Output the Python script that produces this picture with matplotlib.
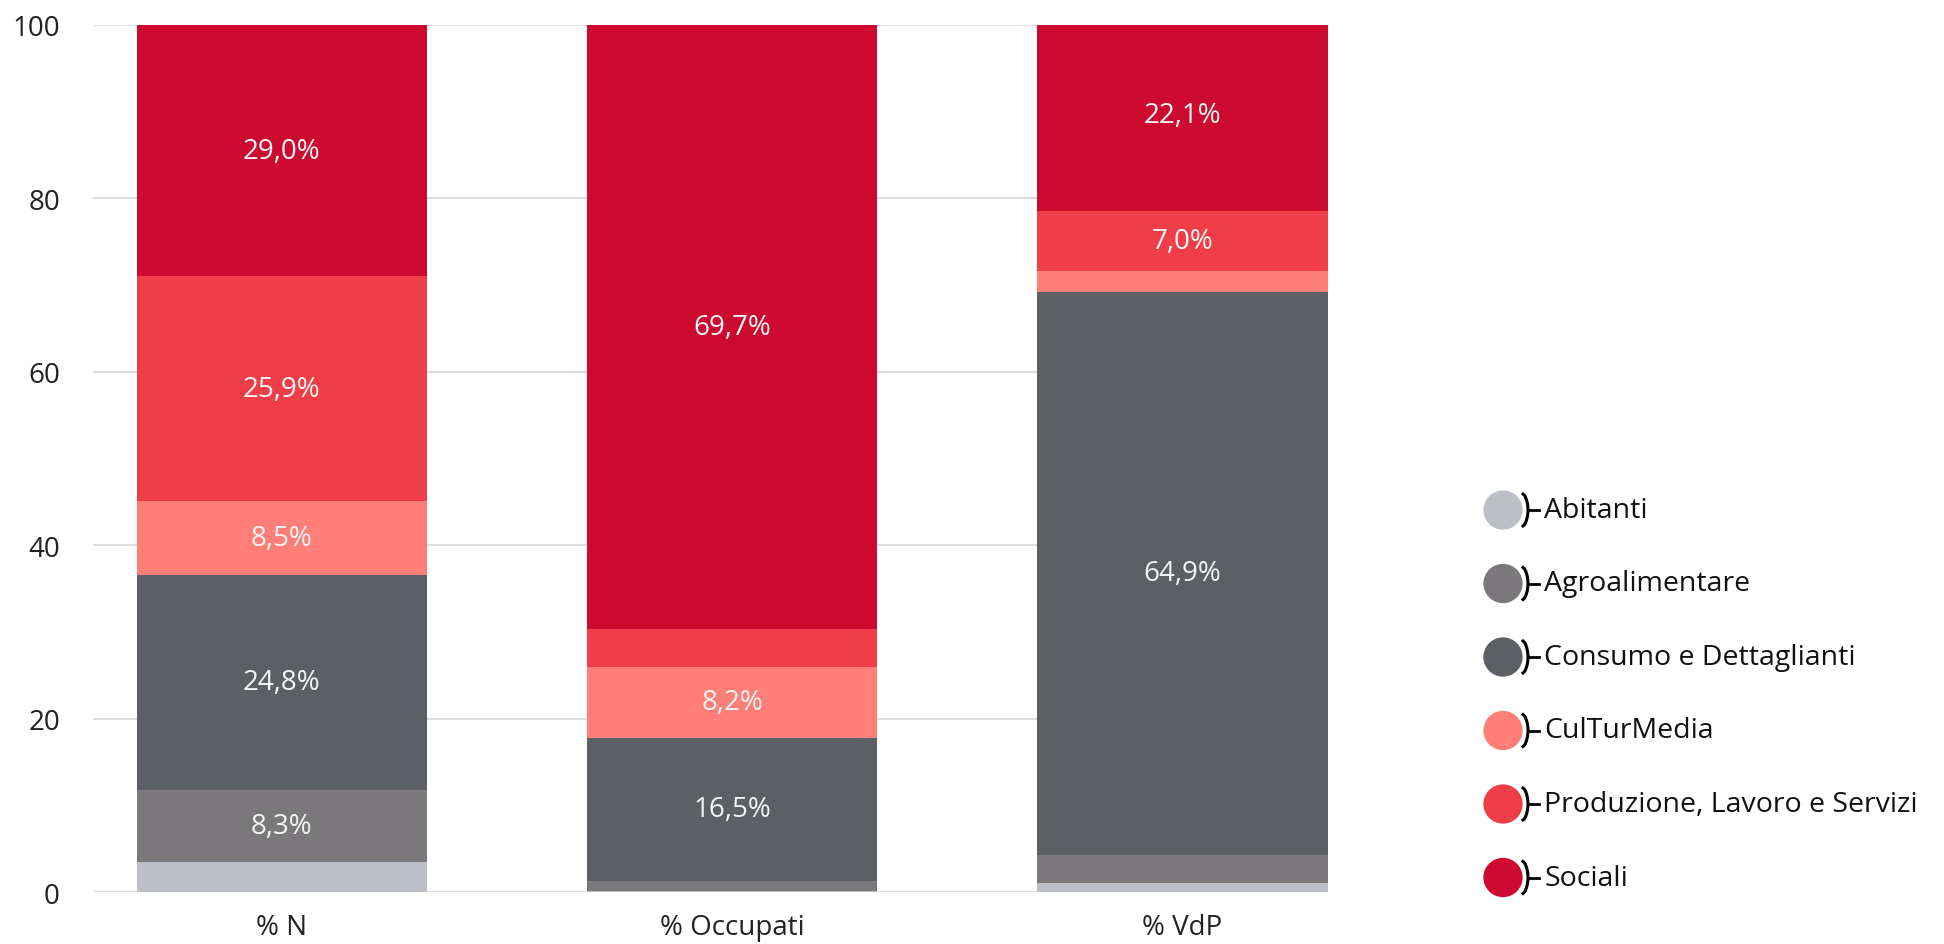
import numpy as np
import matplotlib.pyplot as plt
from matplotlib.lines import Line2D

plt.rcParams['font.family'] = ['Open Sans', 'DejaVu Sans']

# ── Dati ─────────────────────────────────────────────────────────────────────
categorie = ["% N", "% Occupati", "% VdP"]
settori   = ["Abitanti", "Agroalimentare", "Consumo e Dettaglianti",
             "CulTurMedia", "Produzione, Lavoro e Servizi", "Sociali"]

abitanti    = [3.5, 0.1, 1.0]
agro        = [8.3, 1.2, 3.3]
consumo     = [24.8, 16.5, 64.9]
culturmedia = [8.5, 8.2, 2.4]
produzione  = [25.9, 4.3, 7.0]
sociali     = [29.0, 69.7, 22.1]

colori = ["#BCC0C6", "#7B787C", "#5C5F64", "#FF7F78", "#F03E48", "#CC0A2F"]
serie  = [abitanti, agro, consumo, culturmedia, produzione, sociali]

# ── Figura ───────────────────────────────────────────────────────────────────
fig = plt.figure(figsize=(19.44, 9.45), dpi=100)
ax = fig.add_axes([0.048, 0.055, 0.635, 0.9175])

x = np.arange(len(categorie))
width = 0.645
bottom = np.zeros(len(categorie))
for vals, col in zip(serie, colori):
    vals = np.array(vals)
    ax.bar(x, vals, width, bottom=bottom, color=col, zorder=2)
    for xi, v, b in zip(x, vals, bottom):
        if v >= 5:
            ax.text(xi, b + v / 2, f"{v:.1f}%".replace('.', ','),
                    ha='center', va='center', color='#F4F4F4',
                    fontsize=20, zorder=3)
    bottom += vals

ax.set_ylim(0, 100)
ax.set_xlim(-width / 2 - 0.096, 2 + width / 2)
ax.set_yticks([0, 20, 40, 60, 80, 100])
ax.yaxis.grid(True, color='#DCDCE0', linewidth=1.5, zorder=0)
ax.set_axisbelow(True)
for s in ax.spines.values():
    s.set_visible(False)
ax.tick_params(axis='both', length=0, labelsize=20, labelcolor='#222222')
ax.tick_params(axis='y', pad=24)
ax.tick_params(axis='x', pad=15)
ax.set_xticks(x)
ax.set_xticklabels(categorie)

# ── Legenda personalizzata ───────────────────────────────────────────────────
lax = fig.add_axes([0, 0, 1, 1])
lax.set_xlim(0, 1944)
lax.set_ylim(945, 0)
lax.axis('off')

cx, y0, step = 1503, 511, 73.5
t = np.linspace(-1, 1, 30)
for i, (nome, col) in enumerate(zip(settori, colori)):
    cy = y0 + i * step
    lax.scatter([cx], [cy], s=800, color=col, edgecolors='none')
    bx = cx + 20 + 5 * np.cos(t * np.pi / 2) ** 0.6
    by = cy + 16 * t
    lax.add_line(Line2D(bx, by, color='black', linewidth=2.2))
    lax.add_line(Line2D([cx + 25, cx + 36], [cy, cy], color='black', linewidth=2.0))
    lax.text(cx + 41, cy, nome, ha='left', va='center', fontsize=20.5,
             color='#111111')

fig.savefig("out.png", dpi=100)
